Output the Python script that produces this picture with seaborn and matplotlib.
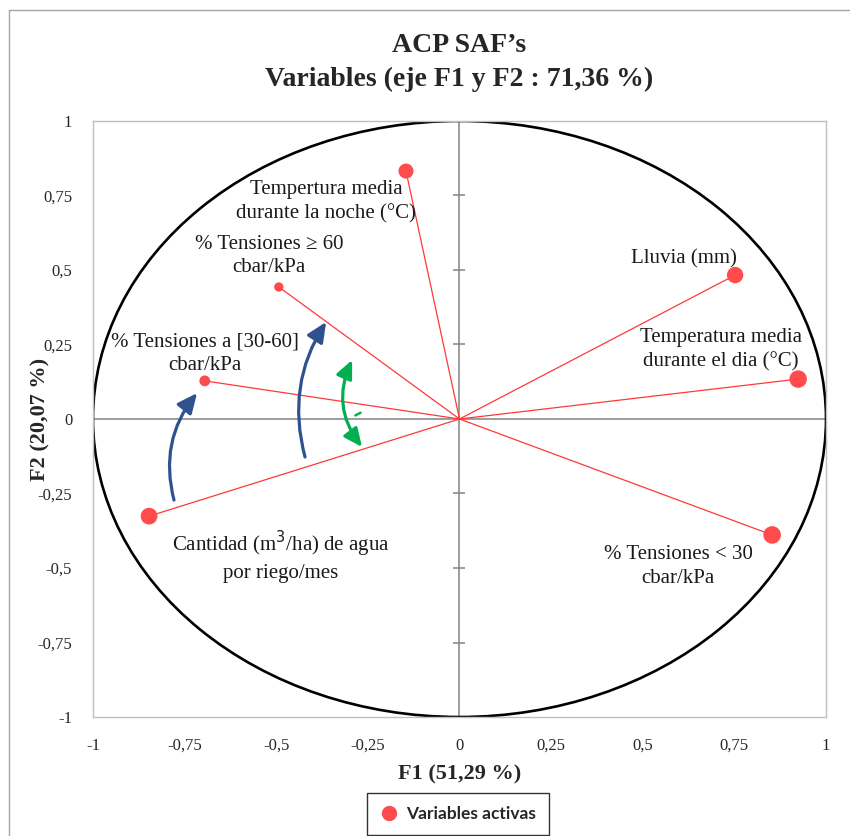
import numpy as np
import pandas as pd
import matplotlib
matplotlib.use('Agg')
import matplotlib.pyplot as plt
import seaborn as sns
from matplotlib.patches import Ellipse
from matplotlib.lines import Line2D

# coordenadas de las variables en F1 / F2
variables = ['Tempertura media\ndurante la noche (°C)',
             '% Tensiones ≥ 60\ncbar/kPa',
             '% Tensiones a [30-60]\ncbar/kPa',
             'Cantidad (m$^3$/ha) de agua\npor riego/mes',
             'Lluvia (mm)',
             'Temperatura media\ndurante el dia (°C)',
             '% Tensiones < 30\ncbar/kPa']
f1 = [-0.146, -0.493, -0.695, -0.847, 0.752, 0.924, 0.853]
f2 = [0.832, 0.443, 0.128, -0.326, 0.483, 0.134, -0.389]
# desplazamiento de las etiquetas (px)
lab_dx = [-80, -10, 0, 132, -51, -77, -94]
lab_dy = [-31, 31, 27, -40, 16, 29, -32]

ticks = [-1, -0.75, -0.5, -0.25, 0, 0.25, 0.5, 0.75, 1]
tick_labels = ['-1', '-0,75', '-0,5', '-0,25', '0', '0,25', '0,5', '0,75', '1']

df = pd.DataFrame({'var': variables, 'F1': f1, 'F2': f2})
df['cos2'] = df['F1'] ** 2 + df['F2'] ** 2

red = '#FF4B4B'
sns.set_style('white')
plt.rcParams['font.family'] = ['Liberation Serif', 'DejaVu Serif']

fig = plt.figure(figsize=(8.5, 8.36), dpi=100)
ax = fig.add_axes([93 / 850, 1 - 717 / 836, 733 / 850, 596 / 836])

ax.axhline(0, color='#8C8C8C', lw=1.2, zorder=1)
ax.axvline(0, color='#8C8C8C', lw=1.2, zorder=1)
yt = [t for t in ticks if t != 0]
ax.plot([0] * len(yt), yt, ls='', marker='_', ms=9, mew=1.2, color='#8C8C8C', zorder=1)

ax.add_patch(Ellipse((0, 0), 2, 2, fill=False, ec='black', lw=1.9, zorder=2))

for x, y in zip(df['F1'], df['F2']):
    ax.plot([0, x], [0, y], color='#FF3838', lw=0.9, zorder=3)

sns.scatterplot(data=df, x='F1', y='F2', size='cos2', sizes=(45, 160),
                color=red, edgecolor='none', legend=False, ax=ax, zorder=4)

for lab, x, y, dx, dy in zip(df['var'], df['F1'], df['F2'], lab_dx, lab_dy):
    ax.annotate(lab, (x, y), xytext=(dx * 0.72, dy * 0.72), textcoords='offset points',
                ha='center', va='center', multialignment='center', fontsize=15,
                linespacing=1.35, color='#1a1a1a', zorder=5)

# flechas
blue = '#2F528F'
green = '#00B050'
ax.annotate('', xy=(-0.716, 0.087), xytext=(-0.779, -0.272),
            arrowprops=dict(arrowstyle='-|>,head_length=1.2,head_width=0.55', color=blue, lw=2.3,
                            connectionstyle='arc3,rad=-0.25', shrinkA=0, shrinkB=0))
ax.annotate('', xy=(-0.364, 0.3255), xytext=(-0.4215, -0.1275),
            arrowprops=dict(arrowstyle='-|>,head_length=1.2,head_width=0.55', color=blue, lw=2.3,
                            connectionstyle='arc3,rad=-0.22', shrinkA=0, shrinkB=0))
ax.annotate('', xy=(-0.293, 0.198), xytext=(-0.266, -0.094),
            arrowprops=dict(arrowstyle='<|-|>,head_length=1.1,head_width=0.5', color=green, lw=2.3,
                            connectionstyle='arc3,rad=-0.3', shrinkA=0, shrinkB=0))
ax.plot([-0.284, -0.27], [0.012, 0.021], color=green, lw=1.8)

ax.set_xlim(-1, 1)
ax.set_ylim(-1, 1)
ax.set_xticks(ticks)
ax.set_xticklabels(tick_labels)
ax.set_yticks(ticks)
ax.set_yticklabels(tick_labels)
ax.tick_params(length=0, pad=15, labelsize=12)
for s in ax.spines.values():
    s.set_color('#BFBFBF')
    s.set_linewidth(1)

ax.set_xlabel('F1 (51,29 %)', fontsize=16, fontweight='bold', va='center')
ax.xaxis.set_label_coords(0.5, -0.097)
ax.set_ylabel('F2 (20,07 %)', fontsize=16, fontweight='bold', va='center')
ax.yaxis.set_label_coords(-0.072, 0.5)

fig.text(0.54, 1 - 46 / 836, 'ACP SAF’s', ha='center', va='center', fontsize=20, fontweight='bold')
fig.text(0.54, 1 - 79 / 836, 'Variables (eje F1 y F2 : 71,36 %)', ha='center', va='center',
         fontsize=20, fontweight='bold')

handle = Line2D([], [], ls='', marker='o', color=red, ms=10)
leg = fig.legend([handle], ['Variables activas'], loc='upper center',
                 bbox_to_anchor=(458 / 850, 1 - 793 / 836), frameon=True, fancybox=False,
                 edgecolor='black', handletextpad=0.5, borderpad=0.75, handlelength=1.0,
                 borderaxespad=0, prop={'family': 'Lato', 'weight': 'bold', 'size': 12.5})
leg.get_frame().set_linewidth(1)

# borde gris del grafico
fig.add_artist(Line2D([8.5 / 850, 8.5 / 850], [0, 1 - 10 / 836], color='#A6A6A6', lw=1))
fig.add_artist(Line2D([8.5 / 850, 1], [1 - 10 / 836, 1 - 10 / 836], color='#A6A6A6', lw=1))

fig.savefig('out.png', dpi=100)
